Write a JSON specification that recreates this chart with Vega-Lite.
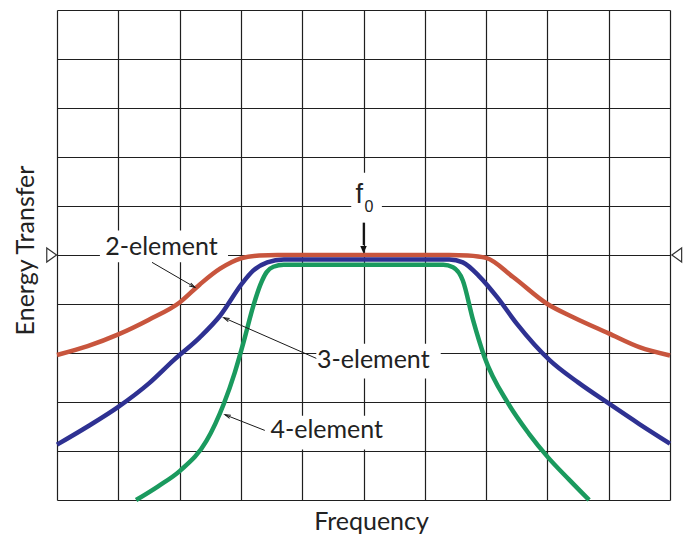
{
  "$schema": "https://vega.github.io/schema/vega-lite/v6.json",
  "width": 613,
  "height": 490,
  "autosize": {"type": "none"},
  "padding": {"left": 57, "top": 10, "right": 17, "bottom": 36},
  "background": "white",
  "config": {"view": {"stroke": null}},
  "datasets": {
    "curves": [
      {"series": "2-element", "f": 0, "e": 2.96},
      {"series": "2-element", "f": 0.5, "e": 3.14},
      {"series": "2-element", "f": 1.0, "e": 3.38},
      {"series": "2-element", "f": 1.5, "e": 3.68},
      {"series": "2-element", "f": 2.0, "e": 4.03},
      {"series": "2-element", "f": 2.33, "e": 4.4},
      {"series": "2-element", "f": 2.66, "e": 4.72},
      {"series": "2-element", "f": 3.0, "e": 4.93},
      {"series": "2-element", "f": 3.3, "e": 4.99},
      {"series": "2-element", "f": 3.6, "e": 5.0},
      {"series": "2-element", "f": 5.0, "e": 5.0},
      {"series": "2-element", "f": 6.4, "e": 5.0},
      {"series": "2-element", "f": 6.7, "e": 4.99},
      {"series": "2-element", "f": 7.0, "e": 4.94},
      {"series": "2-element", "f": 7.44, "e": 4.55},
      {"series": "2-element", "f": 8.0, "e": 4.0},
      {"series": "2-element", "f": 8.42, "e": 3.73},
      {"series": "2-element", "f": 9.0, "e": 3.4},
      {"series": "2-element", "f": 9.5, "e": 3.12},
      {"series": "2-element", "f": 10.0, "e": 2.95},
      {"series": "3-element", "f": 0, "e": 1.13},
      {"series": "3-element", "f": 0.5, "e": 1.5},
      {"series": "3-element", "f": 1.0, "e": 1.9},
      {"series": "3-element", "f": 1.5, "e": 2.38},
      {"series": "3-element", "f": 1.9, "e": 2.85},
      {"series": "3-element", "f": 2.33, "e": 3.32},
      {"series": "3-element", "f": 2.66, "e": 3.76},
      {"series": "3-element", "f": 3.02, "e": 4.42},
      {"series": "3-element", "f": 3.2, "e": 4.68},
      {"series": "3-element", "f": 3.43, "e": 4.85},
      {"series": "3-element", "f": 3.7, "e": 4.91},
      {"series": "3-element", "f": 5.0, "e": 4.91},
      {"series": "3-element", "f": 6.4, "e": 4.91},
      {"series": "3-element", "f": 6.62, "e": 4.85},
      {"series": "3-element", "f": 6.9, "e": 4.55},
      {"series": "3-element", "f": 7.18, "e": 4.14},
      {"series": "3-element", "f": 7.5, "e": 3.6},
      {"series": "3-element", "f": 8.04, "e": 2.85},
      {"series": "3-element", "f": 8.5, "e": 2.4},
      {"series": "3-element", "f": 9.0, "e": 1.97},
      {"series": "3-element", "f": 9.5, "e": 1.55},
      {"series": "3-element", "f": 10.0, "e": 1.15},
      {"series": "4-element", "f": 1.29, "e": 0},
      {"series": "4-element", "f": 1.65, "e": 0.28},
      {"series": "4-element", "f": 2.01, "e": 0.6},
      {"series": "4-element", "f": 2.44, "e": 1.21},
      {"series": "4-element", "f": 2.72, "e": 1.96},
      {"series": "4-element", "f": 2.9, "e": 2.6},
      {"series": "4-element", "f": 3.05, "e": 3.25},
      {"series": "4-element", "f": 3.2, "e": 3.95},
      {"series": "4-element", "f": 3.32, "e": 4.4},
      {"series": "4-element", "f": 3.42, "e": 4.65},
      {"series": "4-element", "f": 3.53, "e": 4.76},
      {"series": "4-element", "f": 3.7, "e": 4.8},
      {"series": "4-element", "f": 5.0, "e": 4.8},
      {"series": "4-element", "f": 6.3, "e": 4.8},
      {"series": "4-element", "f": 6.46, "e": 4.75},
      {"series": "4-element", "f": 6.62, "e": 4.48},
      {"series": "4-element", "f": 6.79, "e": 3.66},
      {"series": "4-element", "f": 6.97, "e": 2.93},
      {"series": "4-element", "f": 7.36, "e": 1.97},
      {"series": "4-element", "f": 7.7, "e": 1.35},
      {"series": "4-element", "f": 8.01, "e": 0.87},
      {"series": "4-element", "f": 8.35, "e": 0.42},
      {"series": "4-element", "f": 8.68, "e": 0}
    ],
    "masks": [
      {"x": 0.7, "x2": 2.79, "y": 4.85, "y2": 5.5},
      {"x": 4.23, "x2": 6.26, "y": 2.48, "y2": 3.19},
      {"x": 3.39, "x2": 5.43, "y": 1.03, "y2": 1.72},
      {"x": 4.8, "x2": 5.3, "y": 5.66, "y2": 6.68}
    ],
    "labels": [
      {"label": "2-element", "x": 1.704, "y": 4.99},
      {"label": "3-element", "x": 5.16, "y": 2.7},
      {"label": "4-element", "x": 4.4, "y": 1.27}
    ],
    "arrows": [
      {"x": 1.55, "y": 4.85, "x2": 2.25, "y2": 4.34, "angle": 120},
      {"x": 4.23, "y": 2.89, "x2": 2.72, "y2": 3.72, "angle": 294},
      {"x": 3.39, "y": 1.42, "x2": 2.74, "y2": 1.74, "angle": 292}
    ],
    "ends": [
      {"x": -0.087, "y": 5.0, "angle": 0},
      {"x": 10.11, "y": 5.0, "angle": 180}
    ]
  },
  "layer": [
    {
      "data": {"name": "masks"},
      "mark": {"type": "rect", "color": "white"},
      "encoding": {
        "x": {"field": "x", "type": "quantitative", "scale": {"domain": [0, 10], "nice": false, "zero": false},
          "axis": {"values": [0,1,2,3,4,5,6,7,8,9,10], "grid": true, "gridColor": "#1f1f1f", "gridWidth": 1.2, "gridOpacity": 1,
            "domain": false, "ticks": false, "labels": false, "title": "Frequency",
            "titleFont": "Lato", "titleFontSize": 25, "titleFontWeight": "normal", "titleColor": "#222222",
            "titleX": 314, "titleY": 29, "titleBaseline": "alphabetic", "titleAlign": "center"}},
        "x2": {"field": "x2"},
        "y": {"field": "y", "type": "quantitative", "scale": {"domain": [0, 10], "nice": false, "zero": false},
          "axis": {"values": [0,1,2,3,4,5,6,7,8,9,10], "grid": true, "gridColor": "#1f1f1f", "gridWidth": 1.2, "gridOpacity": 1,
            "domain": false, "ticks": false, "labels": false, "title": "Energy Transfer",
            "titleFont": "Lato", "titleFontSize": 25, "titleFontWeight": "normal", "titleColor": "#222222",
            "titleX": -32, "titleY": 240, "titleAngle": -90, "titleBaseline": "middle", "titleAlign": "center"}},
        "y2": {"field": "y2"}
      }
    },
    {
      "data": {"name": "curves"},
      "mark": {"type": "line", "strokeWidth": 4.5, "interpolate": "monotone", "strokeCap": "butt"},
      "encoding": {
        "x": {"field": "f", "type": "quantitative"},
        "y": {"field": "e", "type": "quantitative"},
        "color": {"field": "series", "type": "nominal",
          "scale": {"domain": ["2-element", "3-element", "4-element"], "range": ["#C8553D", "#2E3192", "#1A9A5E"]},
          "legend": null},
        "order": {"field": "f", "type": "quantitative"}
      }
    },
    {
      "data": {"name": "arrows"},
      "mark": {"type": "rule", "color": "#1a1a1a", "strokeWidth": 1},
      "encoding": {
        "x": {"field": "x", "type": "quantitative"},
        "y": {"field": "y", "type": "quantitative"},
        "x2": {"field": "x2"},
        "y2": {"field": "y2"}
      }
    },
    {
      "data": {"name": "arrows"},
      "mark": {"type": "point", "shape": "M -0.55 1.9 L 0 0 L 0.55 1.9", "filled": false, "stroke": "#1a1a1a", "strokeWidth": 1, "size": 36, "opacity": 1},
      "encoding": {
        "x": {"field": "x2", "type": "quantitative"},
        "y": {"field": "y2", "type": "quantitative"},
        "angle": {"field": "angle", "type": "quantitative", "scale": null}
      }
    },
    {
      "data": {"values": [{"x": 5.0, "y": 5.66, "y2": 5.2}]},
      "mark": {"type": "rule", "color": "#111111", "strokeWidth": 1.6},
      "encoding": {
        "x": {"field": "x", "type": "quantitative"},
        "y": {"field": "y", "type": "quantitative"},
        "y2": {"field": "y2"}
      }
    },
    {
      "data": {"values": [{"x": 5.0, "y": 5.03}]},
      "mark": {"type": "point", "shape": "M -1 -2.3 L 0 0 L 1 -2.3 Z", "filled": true, "color": "#111111", "size": 42, "opacity": 1},
      "encoding": {
        "x": {"field": "x", "type": "quantitative"},
        "y": {"field": "y", "type": "quantitative"}
      }
    },
    {
      "data": {"name": "labels"},
      "mark": {"type": "text", "font": "Lato", "fontSize": 25, "color": "#222222", "align": "center", "baseline": "alphabetic"},
      "encoding": {
        "x": {"field": "x", "type": "quantitative"},
        "y": {"field": "y", "type": "quantitative"},
        "text": {"field": "label"}
      }
    },
    {
      "data": {"values": [{"x": 4.93, "y": 6.07, "t": "f"}]},
      "mark": {"type": "text", "font": "Liberation Sans", "fontSize": 27, "color": "#222222", "align": "center", "baseline": "alphabetic"},
      "encoding": {
        "x": {"field": "x", "type": "quantitative"},
        "y": {"field": "y", "type": "quantitative"},
        "text": {"field": "t"}
      }
    },
    {
      "data": {"values": [{"x": 5.09, "y": 5.87, "t": "0"}]},
      "mark": {"type": "text", "font": "Liberation Sans", "fontSize": 16, "color": "#222222", "align": "center", "baseline": "alphabetic"},
      "encoding": {
        "x": {"field": "x", "type": "quantitative"},
        "y": {"field": "y", "type": "quantitative"},
        "text": {"field": "t"}
      }
    },
    {
      "data": {"name": "ends"},
      "mark": {"type": "point", "shape": "M -0.7 -1 L 0.7 0 L -0.7 1 Z", "filled": false, "stroke": "#333333", "strokeWidth": 1.2, "size": 196, "opacity": 1},
      "encoding": {
        "x": {"field": "x", "type": "quantitative"},
        "y": {"field": "y", "type": "quantitative"},
        "angle": {"field": "angle", "type": "quantitative", "scale": null}
      }
    }
  ]
}
